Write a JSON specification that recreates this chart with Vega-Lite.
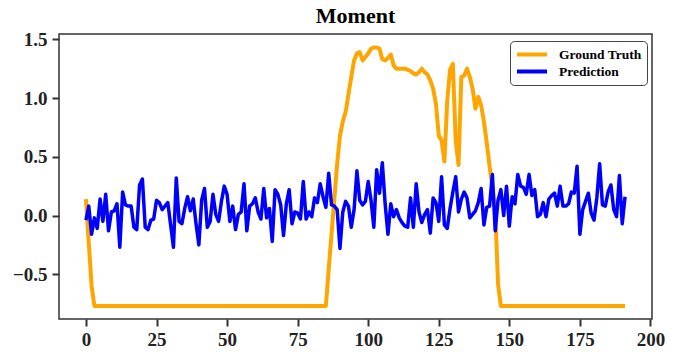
{
  "$schema": "https://vega.github.io/schema/vega-lite/v6.json",
  "width": 593,
  "height": 285,
  "autosize": {"type": "none"},
  "padding": {"left": 59, "top": 34, "right": 23, "bottom": 42},
  "background": "white",
  "title": {"text": "Moment", "font": "Liberation Serif", "fontSize": 22, "fontWeight": "bold", "color": "#000000", "anchor": "middle", "offset": 2},
  "config": {
    "view": {"stroke": "#333333", "strokeWidth": 1.5},
    "font": "Liberation Serif"
  },
  "data": {"values": [
{"t":0,"gt":0.14,"pred":-0.04},{"t":1,"gt":-0.23,"pred":0.08},{"t":2,"gt":-0.6,"pred":-0.16},{"t":3,"gt":-0.77,"pred":-0.02},{"t":4,"gt":-0.77,"pred":-0.11},{"t":5,"gt":-0.77,"pred":0.14},{"t":6,"gt":-0.77,"pred":-0.05},{"t":7,"gt":-0.77,"pred":0.18},{"t":8,"gt":-0.77,"pred":-0.13},{"t":9,"gt":-0.77,"pred":0.03},
{"t":10,"gt":-0.77,"pred":0.04},{"t":11,"gt":-0.77,"pred":0.1},{"t":12,"gt":-0.77,"pred":-0.27},{"t":13,"gt":-0.77,"pred":0.2},{"t":14,"gt":-0.77,"pred":0.09},{"t":15,"gt":-0.77,"pred":0.08},{"t":16,"gt":-0.77,"pred":0.08},{"t":17,"gt":-0.77,"pred":-0.1},{"t":18,"gt":-0.77,"pred":-0.12},{"t":19,"gt":-0.77,"pred":0.26},
{"t":20,"gt":-0.77,"pred":0.31},{"t":21,"gt":-0.77,"pred":-0.1},{"t":22,"gt":-0.77,"pred":-0.12},{"t":23,"gt":-0.77,"pred":-0.04},{"t":24,"gt":-0.77,"pred":-0.03},{"t":25,"gt":-0.77,"pred":0.13},{"t":26,"gt":-0.77,"pred":0.11},{"t":27,"gt":-0.77,"pred":0.05},{"t":28,"gt":-0.77,"pred":0.08},{"t":29,"gt":-0.77,"pred":0.11},
{"t":30,"gt":-0.77,"pred":-0.08},{"t":31,"gt":-0.77,"pred":-0.27},{"t":32,"gt":-0.77,"pred":0.32},{"t":33,"gt":-0.77,"pred":-0.05},{"t":34,"gt":-0.77,"pred":-0.07},{"t":35,"gt":-0.77,"pred":0.06},{"t":36,"gt":-0.77,"pred":0.16},{"t":37,"gt":-0.77,"pred":0.04},{"t":38,"gt":-0.77,"pred":0.14},{"t":39,"gt":-0.77,"pred":-0.07},
{"t":40,"gt":-0.77,"pred":-0.25},{"t":41,"gt":-0.77,"pred":0.13},{"t":42,"gt":-0.77,"pred":0.23},{"t":43,"gt":-0.77,"pred":-0.1},{"t":44,"gt":-0.77,"pred":-0.05},{"t":45,"gt":-0.77,"pred":0.18},{"t":46,"gt":-0.77,"pred":0.01},{"t":47,"gt":-0.77,"pred":-0.05},{"t":48,"gt":-0.77,"pred":0.12},{"t":49,"gt":-0.77,"pred":0.25},
{"t":50,"gt":-0.77,"pred":0.18},{"t":51,"gt":-0.77,"pred":-0.05},{"t":52,"gt":-0.77,"pred":0.08},{"t":53,"gt":-0.77,"pred":-0.12},{"t":54,"gt":-0.77,"pred":0.01},{"t":55,"gt":-0.77,"pred":0.03},{"t":56,"gt":-0.77,"pred":0.27},{"t":57,"gt":-0.77,"pred":-0.13},{"t":58,"gt":-0.77,"pred":0.08},{"t":59,"gt":-0.77,"pred":0.1},
{"t":60,"gt":-0.77,"pred":0.15},{"t":61,"gt":-0.77,"pred":0.03},{"t":62,"gt":-0.77,"pred":-0.03},{"t":63,"gt":-0.77,"pred":0.23},{"t":64,"gt":-0.77,"pred":-0.02},{"t":65,"gt":-0.77,"pred":0.06},{"t":66,"gt":-0.77,"pred":-0.22},{"t":67,"gt":-0.77,"pred":0.22},{"t":68,"gt":-0.77,"pred":0.18},{"t":69,"gt":-0.77,"pred":0.09},
{"t":70,"gt":-0.77,"pred":-0.17},{"t":71,"gt":-0.77,"pred":0.1},{"t":72,"gt":-0.77,"pred":0.22},{"t":73,"gt":-0.77,"pred":-0.07},{"t":74,"gt":-0.77,"pred":0.03},{"t":75,"gt":-0.77,"pred":0.02},{"t":76,"gt":-0.77,"pred":-0.03},{"t":77,"gt":-0.77,"pred":0.29},{"t":78,"gt":-0.77,"pred":-0.03},{"t":79,"gt":-0.77,"pred":0.03},
{"t":80,"gt":-0.77,"pred":-0.01},{"t":81,"gt":-0.77,"pred":0.15},{"t":82,"gt":-0.77,"pred":0.11},{"t":83,"gt":-0.77,"pred":0.27},{"t":84,"gt":-0.77,"pred":0.16},{"t":85,"gt":-0.77,"pred":0.07},{"t":86,"gt":-0.46,"pred":0.36},{"t":87,"gt":-0.16,"pred":0.09},{"t":88,"gt":0.14,"pred":0.08},{"t":89,"gt":0.44,"pred":0.05},
{"t":90,"gt":0.68,"pred":-0.28},{"t":91,"gt":0.8,"pred":0.03},{"t":92,"gt":0.88,"pred":0.12},{"t":93,"gt":1.03,"pred":0.08},{"t":94,"gt":1.18,"pred":-0.1},{"t":95,"gt":1.32,"pred":0.05},{"t":96,"gt":1.38,"pred":0.38},{"t":97,"gt":1.39,"pred":0.13},{"t":98,"gt":1.32,"pred":0.09},{"t":99,"gt":1.35,"pred":0.12},
{"t":100,"gt":1.38,"pred":0.29},{"t":101,"gt":1.42,"pred":0.13},{"t":102,"gt":1.43,"pred":-0.1},{"t":103,"gt":1.43,"pred":0.39},{"t":104,"gt":1.42,"pred":0.19},{"t":105,"gt":1.33,"pred":0.45},{"t":106,"gt":1.32,"pred":0.1},{"t":107,"gt":1.34,"pred":-0.16},{"t":108,"gt":1.37,"pred":0.1},{"t":109,"gt":1.28,"pred":-0.01},
{"t":110,"gt":1.25,"pred":0.05},{"t":111,"gt":1.25,"pred":-0.02},{"t":112,"gt":1.25,"pred":-0.06},{"t":113,"gt":1.25,"pred":-0.09},{"t":114,"gt":1.24,"pred":-0.1},{"t":115,"gt":1.23,"pred":0.15},{"t":116,"gt":1.21,"pred":-0.1},{"t":117,"gt":1.2,"pred":0.27},{"t":118,"gt":1.22,"pred":0.03},{"t":119,"gt":1.25,"pred":-0.06},
{"t":120,"gt":1.22,"pred":0.01},{"t":121,"gt":1.2,"pred":0.05},{"t":122,"gt":1.15,"pred":-0.15},{"t":123,"gt":1.08,"pred":0.15},{"t":124,"gt":0.95,"pred":0.11},{"t":125,"gt":0.68,"pred":-0.05},{"t":126,"gt":0.64,"pred":0.33},{"t":127,"gt":0.46,"pred":-0.08},{"t":128,"gt":0.98,"pred":-0.11},{"t":129,"gt":1.24,"pred":0.06},
{"t":130,"gt":1.29,"pred":0.2},{"t":131,"gt":0.64,"pred":0.33},{"t":132,"gt":0.43,"pred":0.03},{"t":133,"gt":1.18,"pred":0.14},{"t":134,"gt":1.19,"pred":0.2},{"t":135,"gt":1.25,"pred":0.15},{"t":136,"gt":1.18,"pred":-0.02},{"t":137,"gt":1.08,"pred":0.01},{"t":138,"gt":0.91,"pred":0.04},{"t":139,"gt":1.01,"pred":0.11},
{"t":140,"gt":0.94,"pred":0.23},{"t":141,"gt":0.8,"pred":-0.08},{"t":142,"gt":0.62,"pred":0.07},{"t":143,"gt":0.42,"pred":0.08},{"t":144,"gt":0.24,"pred":0.35},{"t":145,"gt":0.05,"pred":-0.13},{"t":146,"gt":-0.58,"pred":0.13},{"t":147,"gt":-0.77,"pred":0.22},{"t":148,"gt":-0.77,"pred":0.0},{"t":149,"gt":-0.77,"pred":0.25},
{"t":150,"gt":-0.77,"pred":-0.09},{"t":151,"gt":-0.77,"pred":0.16},{"t":152,"gt":-0.77,"pred":0.1},{"t":153,"gt":-0.77,"pred":0.35},{"t":154,"gt":-0.77,"pred":0.25},{"t":155,"gt":-0.77,"pred":0.24},{"t":156,"gt":-0.77,"pred":0.18},{"t":157,"gt":-0.77,"pred":0.35},{"t":158,"gt":-0.77,"pred":0.17},{"t":159,"gt":-0.77,"pred":0.22},
{"t":160,"gt":-0.77,"pred":-0.01},{"t":161,"gt":-0.77,"pred":0.01},{"t":162,"gt":-0.77,"pred":0.11},{"t":163,"gt":-0.77,"pred":-0.01},{"t":164,"gt":-0.77,"pred":0.14},{"t":165,"gt":-0.77,"pred":0.17},{"t":166,"gt":-0.77,"pred":0.19},{"t":167,"gt":-0.77,"pred":0.08},{"t":168,"gt":-0.77,"pred":0.25},{"t":169,"gt":-0.77,"pred":0.08},
{"t":170,"gt":-0.77,"pred":0.08},{"t":171,"gt":-0.77,"pred":0.1},{"t":172,"gt":-0.77,"pred":0.2},{"t":173,"gt":-0.77,"pred":0.19},{"t":174,"gt":-0.77,"pred":0.42},{"t":175,"gt":-0.77,"pred":-0.16},{"t":176,"gt":-0.77,"pred":0.05},{"t":177,"gt":-0.77,"pred":0.12},{"t":178,"gt":-0.77,"pred":0.19},{"t":179,"gt":-0.77,"pred":0.02},
{"t":180,"gt":-0.77,"pred":-0.04},{"t":181,"gt":-0.77,"pred":0.15},{"t":182,"gt":-0.77,"pred":0.44},{"t":183,"gt":-0.77,"pred":0.09},{"t":184,"gt":-0.77,"pred":0.08},{"t":185,"gt":-0.77,"pred":0.2},{"t":186,"gt":-0.77,"pred":0.26},{"t":187,"gt":-0.77,"pred":0.05},{"t":188,"gt":-0.77,"pred":-0.01},{"t":189,"gt":-0.77,"pred":0.34},
{"t":190,"gt":-0.77,"pred":-0.07},{"t":191,"gt":-0.77,"pred":0.16}
  ]},
  "encoding": {
    "x": {
      "field": "t", "type": "quantitative",
      "scale": {"domain": [-9.55, 200.55], "nice": false, "zero": false},
      "axis": {"title": null, "values": [0,25,50,75,100,125,150,175,200], "format": "d", "domain": false, "grid": false,
        "ticks": true, "tickSize": 7, "tickWidth": 2, "tickColor": "#333333",
        "labelFont": "Liberation Serif", "labelFontSize": 19, "labelFontWeight": "bold", "labelColor": "#222222", "labelPadding": 4}
    }
  },
  "layer": [
    {
      "mark": {"type": "line", "strokeWidth": 4, "strokeJoin": "round", "clip": true},
      "encoding": {
        "y": {
          "field": "gt", "type": "quantitative",
          "scale": {"domain": [-0.881, 1.545], "nice": false, "zero": false},
          "axis": {"title": null, "values": [-0.5, 0, 0.5, 1, 1.5], "format": ".1f", "domain": false, "grid": false,
            "ticks": true, "tickSize": 7, "tickWidth": 2, "tickColor": "#333333",
            "labelFont": "Liberation Serif", "labelFontSize": 19, "labelFontWeight": "bold", "labelColor": "#222222", "labelPadding": 5}
        },
        "color": {
          "datum": "Ground Truth", "type": "nominal",
          "scale": {"domain": ["Ground Truth", "Prediction"], "range": ["#FFA500", "#0000FF"]},
          "legend": {
            "title": null, "orient": "none", "legendX": 451, "legendY": 7,
            "symbolType": "stroke", "symbolSize": 900, "symbolStrokeWidth": 4,
            "labelFont": "Liberation Serif", "labelFontSize": 13.5, "labelFontWeight": "bold", "labelColor": "#000000",
            "labelOffset": 10, "rowPadding": 0, "clipHeight": 17, "padding": 5,
            "fillColor": "white", "strokeColor": "#444444", "cornerRadius": 4
          }
        }
      }
    },
    {
      "mark": {"type": "line", "strokeWidth": 3.5, "strokeJoin": "round", "clip": true},
      "encoding": {
        "y": {"field": "pred", "type": "quantitative"},
        "color": {"datum": "Prediction", "type": "nominal"}
      }
    }
  ]
}
